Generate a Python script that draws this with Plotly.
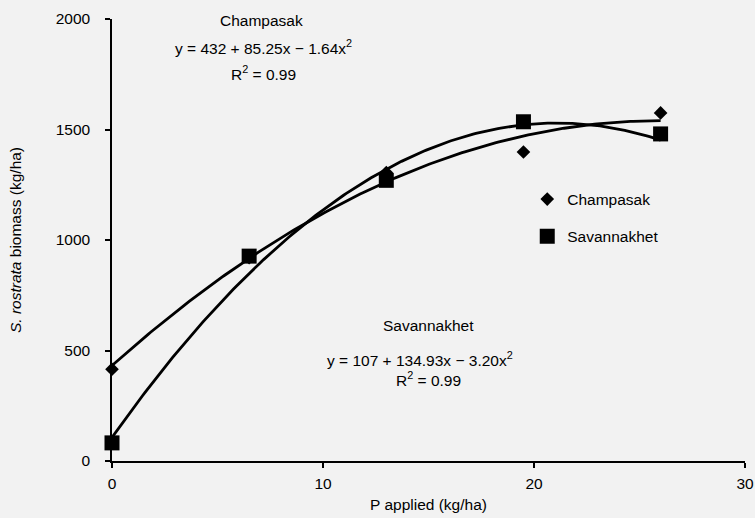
import numpy as np
import plotly.graph_objects as go

# Data
p_applied = [0, 6.5, 13, 19.5, 26]
champasak = [415, 920, 1305, 1398, 1575]
savannakhet = [82, 927, 1270, 1535, 1480]

# Fitted quadratic coefficients printed on the chart (a + b x + c x^2)
champ_coef = [432, 85.25, -1.64]
savan_coef = [107, 134.93, -3.20]

x_ticks = [0, 10, 20, 30]
y_ticks = [0, 500, 1000, 1500, 2000]

FONT = "Liberation Sans, Arial, Helvetica, sans-serif"
FS = 15.5
BG = "#f2f2f2"

xf = np.linspace(min(p_applied), max(p_applied), 200)
def quad(c, x):
    return c[0] + c[1] * x + c[2] * x ** 2

fig = go.Figure()
fig.add_trace(go.Scatter(x=xf, y=quad(champ_coef, xf), mode="lines",
                         line=dict(color="black", width=2.8), showlegend=False,
                         hoverinfo="skip", cliponaxis=False))
fig.add_trace(go.Scatter(x=xf, y=quad(savan_coef, xf), mode="lines",
                         line=dict(color="black", width=2.8), showlegend=False,
                         hoverinfo="skip", cliponaxis=False))
fig.add_trace(go.Scatter(x=p_applied, y=champasak, mode="markers", name="Champasak",
                         legendgroup="a", cliponaxis=False,
                         marker=dict(symbol="diamond", size=10.5, color="black")))
fig.add_trace(go.Scatter(x=p_applied, y=savannakhet, mode="markers", name="Savannakhet",
                         legendgroup="b", cliponaxis=False,
                         marker=dict(symbol="square", size=15, color="black")))

ann = [
    dict(x=7.1, y=1995, text="Champasak"),
    dict(x=7.2, y=1873, text="y = 432 + 85.25x \u2212 1.64x<sup>2</sup>"),
    dict(x=7.2, y=1756, text="R<sup>2</sup> = 0.99"),
    dict(x=14.98, y=615, text="Savannakhet"),
    dict(x=14.6, y=461, text="y = 107 + 134.93x \u2212 3.20x<sup>2</sup>"),
    dict(x=14.98, y=373, text="R<sup>2</sup> = 0.99"),
]
for a in ann:
    fig.add_annotation(xref="x", yref="y", showarrow=False, xanchor="center",
                       yanchor="middle", font=dict(family=FONT, size=FS, color="black"), **a)

axis_common = dict(showgrid=False, zeroline=False, showline=True, linecolor="black",
                   linewidth=1.5, ticks="outside", ticklen=5, tickwidth=1.5,
                   tickcolor="black", automargin=False, layer="below traces",
                   tickfont=dict(family=FONT, size=FS, color="black"))

fig.update_layout(
    width=755, height=518,
    margin=dict(l=112, r=10, t=19, b=57),
    paper_bgcolor=BG, plot_bgcolor=BG,
    font=dict(family=FONT, size=FS, color="black"),
    xaxis=dict(range=[0, 30], tickvals=x_ticks, ticklabelstandoff=3,
               title=dict(text="P applied (kg/ha)", standoff=8,
                          font=dict(family=FONT, size=FS)),
               **axis_common),
    yaxis=dict(range=[0, 2000], tickvals=y_ticks, ticklabelstandoff=12,
               title=dict(text="<i>S. rostrata</i> biomass (kg/ha)", standoff=30,
                          font=dict(family=FONT, size=FS)),
               **axis_common),
    legend=dict(x=0.656, y=0.63, xanchor="left", yanchor="top",
                bgcolor="rgba(0,0,0,0)", tracegroupgap=14,
                font=dict(family=FONT, size=FS)),
    showlegend=True,
)

fig.write_html("out.html")
